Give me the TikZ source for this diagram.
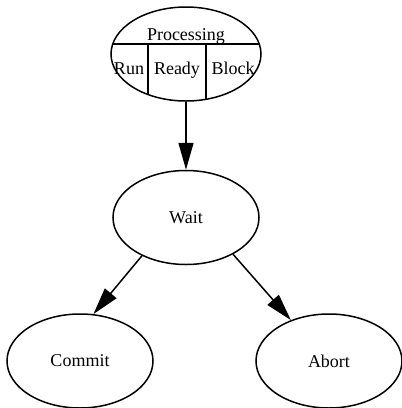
\documentclass[tikz,border=0pt]{standalone}
\usepackage{fontspec}
\setmainfont{Liberation Serif}
\usepackage{tikz}
\usetikzlibrary{shapes.geometric, arrows.meta, positioning}

\begin{document}
\begin{tikzpicture}[x=1pt, y=-1pt, node distance=48pt,
        state/.style={ellipse, draw, line width=1.5pt, minimum width=146pt, minimum height=94pt, inner sep=0pt, font=\fontsize{18}{20}\selectfont},
        label/.style={inner sep=0pt, anchor=base, font=\fontsize{18}{20}\selectfont},
        line/.style={draw, -{Triangle[length=27pt, width=15pt]}, line width=1.5pt}]

        \useasboundingbox (0,0) rectangle (402,408);

        % Nodes
        \node [state, minimum width=150pt, path picture={
                \draw [line width=1.5pt] ([yshift=10pt]path picture bounding box.west) -- ([yshift=10pt]path picture bounding box.east);
                \draw [line width=1.5pt] ([xshift=-38pt, yshift=10pt]path picture bounding box.center) -- ++(0,-60pt);
                \draw [line width=1.5pt] ([xshift=20pt, yshift=10pt]path picture bounding box.center) -- ++(0,-60pt);
            }] (proc) at (186,54) {};
        \node [label] (proctitle) at (186,40) {Processing};
        \node [label] (run) at (129,74) {Run};
        \node [label] (ready) at (177,74) {Ready};
        \node [label] (block) at (233,74) {Block};

        \node [state, below=68pt of proc] (wait) {Wait};
        \node [state, below=48pt of wait, xshift=-106pt] (commit) {Commit};
        \node [state, below=48pt of wait, xshift=143pt] (abort) {Abort};

        % Edges
        \path [line] (proc) -- (wait);
        \path [line] (wait.221) -- (commit.74);
        \path [line] (wait.322) -- (abort.133);
    \end{tikzpicture}
\end{document}
